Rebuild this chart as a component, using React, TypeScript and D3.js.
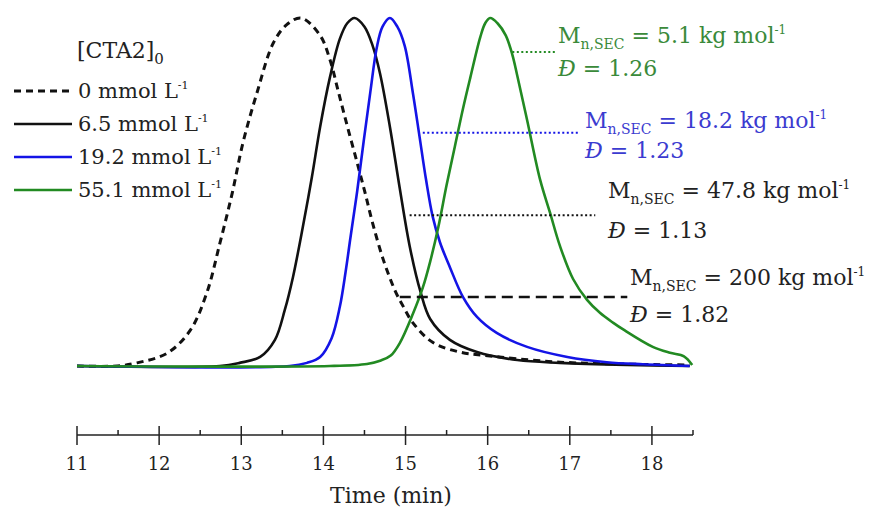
import React from 'react';
import * as d3 from 'd3';

// ---- data (time in min, normalised intensity) ----
const dashed0: [number, number][] = [
  [11.0, 0], [11.49, 0], [11.73, 0.009], [12.1, 0.037], [12.38, 0.103], [12.58, 0.21],
  [12.74, 0.353], [12.89, 0.497], [13.02, 0.641], [13.19, 0.784], [13.39, 0.928], [13.55, 0.98],
  [13.73, 1], [13.96, 0.95], [14.08, 0.88], [14.18, 0.79], [14.29, 0.69], [14.41, 0.585],
  [14.51, 0.495], [14.6, 0.41], [14.73, 0.305], [14.87, 0.218], [14.97, 0.172], [15.09, 0.124],
  [15.33, 0.068], [15.66, 0.04], [15.94, 0.031], [16.88, 0.011], [18.46, 0.003],
];
const black65: [number, number][] = [
  [11.0, 0], [12.74, 0], [12.98, 0.009], [13.23, 0.026], [13.41, 0.075], [13.53, 0.161],
  [13.63, 0.256], [13.75, 0.4], [13.86, 0.543], [13.96, 0.687], [14.08, 0.83], [14.2, 0.94],
  [14.29, 0.985], [14.38, 1], [14.5, 0.975], [14.6, 0.92], [14.69, 0.84], [14.81, 0.687],
  [14.93, 0.51], [15.05, 0.345], [15.18, 0.215], [15.3, 0.135], [15.54, 0.075], [15.87, 0.04],
  [16.36, 0.017], [16.88, 0.009], [17.7, 0.003], [18.46, 0],
];
const blue192: [number, number][] = [
  [11.0, 0], [13.59, 0], [13.8, 0.009], [13.96, 0.026], [14.1, 0.08], [14.2, 0.17],
  [14.27, 0.27], [14.33, 0.37], [14.41, 0.5], [14.49, 0.645], [14.57, 0.785], [14.65, 0.915],
  [14.72, 0.975], [14.81, 1], [14.9, 0.975], [14.99, 0.92], [15.09, 0.784], [15.17, 0.66],
  [15.25, 0.535], [15.33, 0.43], [15.42, 0.355], [15.54, 0.284], [15.7, 0.198], [15.87, 0.141],
  [16.11, 0.095], [16.48, 0.055], [16.97, 0.026], [17.45, 0.011], [17.89, 0.005], [18.46, 0],
];
const green551: [number, number][] = [
  [11.0, 0], [14.08, 0], [14.53, 0.006], [14.7, 0.016], [14.82, 0.03], [14.93, 0.066],
  [15.09, 0.15], [15.21, 0.225], [15.3, 0.3], [15.4, 0.4], [15.5, 0.52], [15.6, 0.63],
  [15.7, 0.74], [15.79, 0.83], [15.91, 0.945], [15.97, 0.985], [16.03, 1], [16.12, 0.985],
  [16.22, 0.95], [16.3, 0.895], [16.36, 0.835], [16.48, 0.707], [16.64, 0.534], [16.76, 0.44],
  [16.88, 0.345], [17.04, 0.25], [17.21, 0.19], [17.37, 0.152], [17.53, 0.124], [17.65, 0.105],
  [18.01, 0.055], [18.22, 0.038], [18.39, 0.028], [18.49, 0.003],
];

const seriesData = [dashed0, black65, blue192, green551];
const seriesLabels = ['0', '6.5', '19.2', '55.1'];
const majorTicks = [11, 12, 13, 14, 15, 16, 17, 18];
const minorTicks = [11.5, 12.5, 13.5, 14.5, 15.5, 16.5, 17.5, 18.5];

// annotation values (green, blue, black, dashed)
const annMn = ['5.1', '18.2', '47.8', '200'];
const annD = ['1.26', '1.23', '1.13', '1.82'];
const annStart = [16.3, 15.21, 15.05, 14.93];
const annEnd = [16.84, 17.1, 17.31, 17.7];
const annLevel = [0.902, 0.67, 0.433, 0.198];

// ---- styles / layout ----
const seriesColor = ['#111', '#111', '#1414e6', '#228a22'];
const seriesDash = ['7,5', null, null, null];
const annColor = ['#3a8a3a', '#3b3bd0', '#222', '#222'];
const annLineColor = ['#228a22', '#1414e6', '#111', '#111'];
const annLineDash = ['2,2.5', '2,2.5', '2,2.5', '11,6'];
const annTextX = [558, 585, 608, 630];
const annBase1 = [43, 128, 198, 285];
const annBase2 = [76, 158, 238, 322];

const FONT = "'DejaVu Serif', serif";

export default function App() {
  const x = d3.scaleLinear().domain([11, 18.5]).range([77, 693]);
  const y = d3.scaleLinear().domain([0, 1]).range([366, 18]);
  const line = d3
    .line<[number, number]>()
    .x((d) => x(d[0]))
    .y((d) => y(d[1]))
    .curve(d3.curveCatmullRom.alpha(0.5));
  const axisY = 435;
  const legendY = [91, 124, 157, 190];

  return (
    <svg
      width={871}
      height={511}
      style={{ position: 'absolute', left: 0, top: 0, background: '#fff' }}
      fontFamily={FONT}
    >
      {seriesData.map((d, i) => (
        <path
          key={i}
          d={line(d) || ''}
          fill="none"
          stroke={seriesColor[i]}
          strokeWidth={i === 0 ? 3 : 2.6}
          strokeDasharray={seriesDash[i] || undefined}
        />
      ))}

      {annMn.map((mn, i) => (
        <g key={i}>
          <line
            x1={x(annStart[i])}
            x2={x(annEnd[i])}
            y1={y(annLevel[i])}
            y2={y(annLevel[i])}
            stroke={annLineColor[i]}
            strokeWidth={i === 3 ? 2.5 : 2}
            strokeDasharray={annLineDash[i]}
          />
          <text x={annTextX[i]} y={annBase1[i]} fontSize={22} fill={annColor[i]}>
            M
            <tspan fontSize={14} dy={6}>n,SEC</tspan>
            <tspan dy={-6}> = {mn} kg mol</tspan>
            <tspan fontSize={12} dy={-9}>-1</tspan>
          </text>
          <text x={annTextX[i]} y={annBase2[i]} fontSize={22} fill={annColor[i]}>
            <tspan fontStyle="italic">Đ</tspan> = {annD[i]}
          </text>
        </g>
      ))}

      <text x={77} y={58} fontSize={22} fill="#222">
        [CTA2]
        <tspan fontSize={15} dy={6}>0</tspan>
      </text>
      {seriesLabels.map((s, i) => (
        <g key={s}>
          <line
            x1={14}
            x2={72}
            y1={legendY[i]}
            y2={legendY[i]}
            stroke={seriesColor[i]}
            strokeWidth={i === 0 ? 3 : 2.6}
            strokeDasharray={seriesDash[i] || undefined}
          />
          <text x={78} y={legendY[i] + 7} fontSize={21} fill="#222">
            {s} mmol L
            <tspan fontSize={11} dy={-9}>-1</tspan>
          </text>
        </g>
      ))}

      <line x1={x(11)} x2={x(18.5)} y1={axisY} y2={axisY} stroke="#222" strokeWidth={1.5} />
      {majorTicks.map((t) => (
        <g key={t}>
          <line x1={x(t)} x2={x(t)} y1={axisY - 9} y2={axisY + 10} stroke="#222" strokeWidth={1.5} />
          <text x={x(t)} y={470} fontSize={18} textAnchor="middle" fill="#222">
            {t}
          </text>
        </g>
      ))}
      {minorTicks.map((t) => (
        <line key={t} x1={x(t)} x2={x(t)} y1={axisY - 5} y2={axisY} stroke="#222" strokeWidth={1.5} />
      ))}
      <text x={391} y={503} fontSize={22} textAnchor="middle" fill="#222">
        Time (min)
      </text>
    </svg>
  );
}
